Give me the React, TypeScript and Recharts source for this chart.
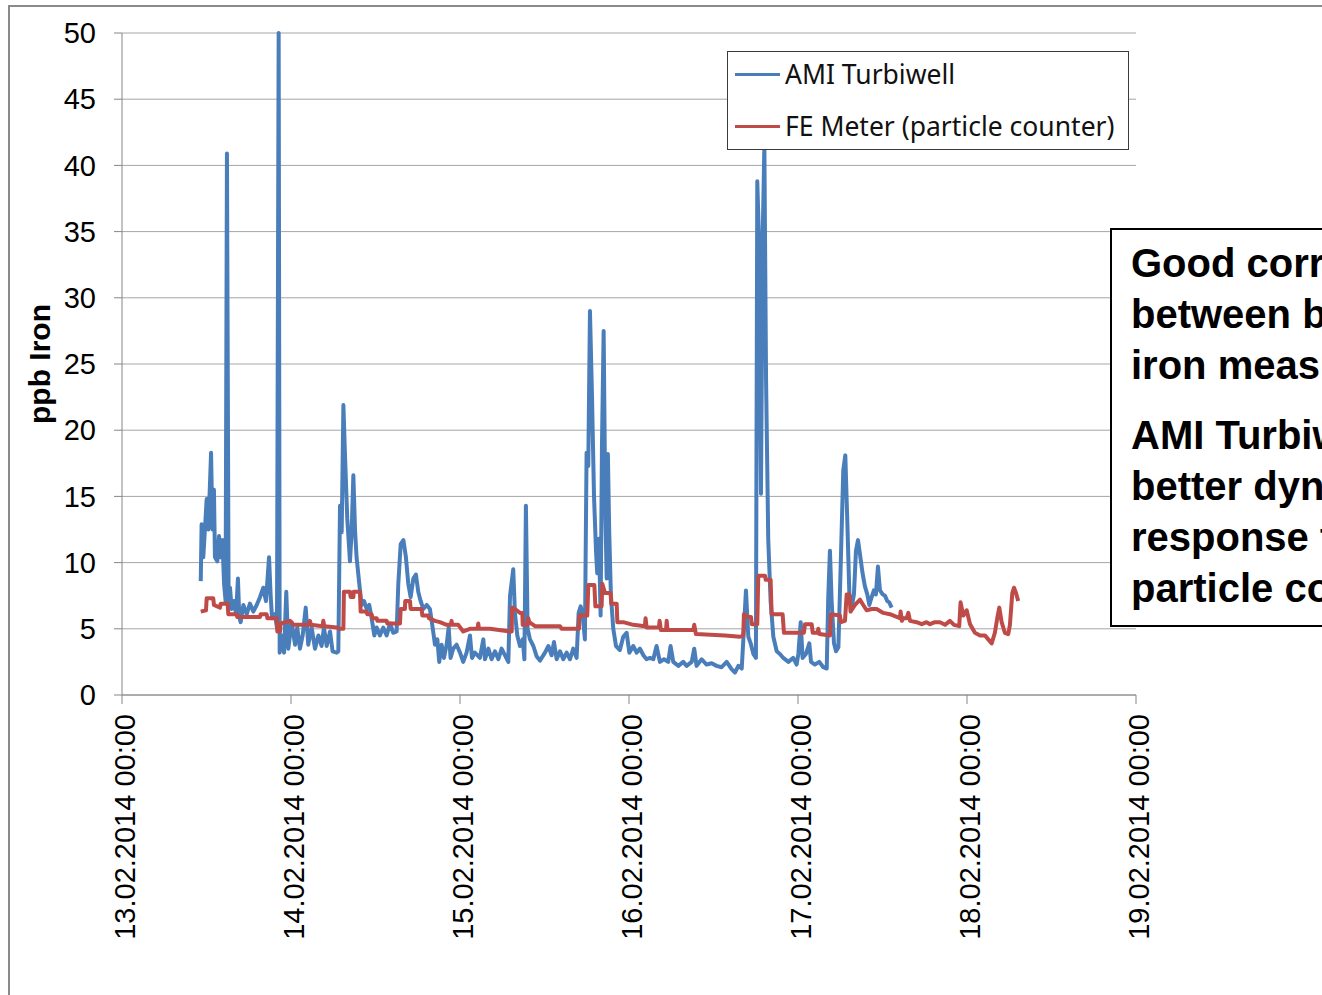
import { LineChart, Line, XAxis, YAxis, CartesianGrid, Legend } from 'recharts';

// days since 13.02.2014 00:00 and ppb iron
const turbiwellDays = [
    0.466, 0.471, 0.481, 0.501, 0.511, 0.527, 0.535, 0.544, 0.55, 0.564, 0.574, 0.584, 0.594, 0.604, 0.613, 0.621,
    0.631, 0.639, 0.649, 0.663, 0.675, 0.686, 0.694, 0.702, 0.718, 0.738, 0.757, 0.777, 0.797, 0.817, 0.836, 0.852,
    0.87, 0.88, 0.888, 0.905, 0.917, 0.927, 0.933, 0.945, 0.959, 0.972, 0.984, 1.004, 1.024, 1.037, 1.053, 1.069,
    1.087, 1.102, 1.122, 1.142, 1.162, 1.181, 1.195, 1.211, 1.231, 1.246, 1.27, 1.28, 1.29, 1.3, 1.31, 1.319, 1.333,
    1.349, 1.359, 1.369, 1.379, 1.388, 1.404, 1.418, 1.432, 1.448, 1.463, 1.477, 1.493, 1.507, 1.526, 1.546, 1.566,
    1.586, 1.605, 1.625, 1.635, 1.649, 1.665, 1.68, 1.694, 1.708, 1.724, 1.739, 1.753, 1.767, 1.783, 1.803, 1.822,
    1.838, 1.852, 1.866, 1.877, 1.891, 1.905, 1.921, 1.933, 1.944, 1.96, 1.98, 2.0, 2.019, 2.039, 2.059, 2.071, 2.088,
    2.118, 2.138, 2.148, 2.168, 2.187, 2.207, 2.227, 2.246, 2.266, 2.286, 2.296, 2.315, 2.325, 2.339, 2.355, 2.371,
    2.381, 2.39, 2.4, 2.414, 2.434, 2.454, 2.473, 2.503, 2.523, 2.542, 2.556, 2.572, 2.592, 2.611, 2.631, 2.651, 2.67,
    2.69, 2.702, 2.714, 2.726, 2.739, 2.749, 2.759, 2.769, 2.781, 2.793, 2.805, 2.812, 2.822, 2.832, 2.84, 2.85, 2.86,
    2.868, 2.875, 2.883, 2.893, 2.907, 2.923, 2.946, 2.966, 2.986, 3.002, 3.025, 3.045, 3.065, 3.085, 3.104, 3.124,
    3.144, 3.163, 3.183, 3.207, 3.232, 3.246, 3.262, 3.292, 3.321, 3.341, 3.371, 3.386, 3.4, 3.43, 3.459, 3.489, 3.518,
    3.548, 3.578, 3.607, 3.627, 3.647, 3.667, 3.68, 3.692, 3.706, 3.72, 3.736, 3.751, 3.759, 3.769, 3.781, 3.791, 3.801,
    3.811, 3.824, 3.838, 3.854, 3.874, 3.893, 3.913, 3.943, 3.972, 3.992, 4.002, 4.016, 4.027, 4.047, 4.067, 4.077,
    4.1, 4.126, 4.15, 4.17, 4.179, 4.189, 4.199, 4.213, 4.225, 4.239, 4.252, 4.268, 4.28, 4.292, 4.304, 4.317, 4.331,
    4.343, 4.355, 4.367, 4.382, 4.396, 4.41, 4.422, 4.436, 4.449, 4.461, 4.473, 4.485, 4.501, 4.515, 4.528, 4.54, 4.554,
];
const turbiwellPpb = [
    8.6, 12.9, 10.4, 14.8, 12.5, 18.3, 12.5, 15.5, 10.4, 10.1, 12.0, 10.4, 11.7, 8.4, 7.1, 40.9,
    6.5, 8.1, 6.5, 7.1, 6.1, 8.8, 5.9, 5.5, 6.8, 6.1, 6.9, 6.3, 6.8, 7.4, 8.1, 7.1,
    10.4, 7.4, 5.8, 6.1, 5.1, 50, 3.2, 4.5, 3.2, 7.8, 3.5, 5.5, 3.8, 5.1, 3.5, 4.5,
    6.6, 3.8, 5.1, 3.5, 4.5, 3.7, 5.1, 3.7, 4.8, 3.3, 3.2, 3.3, 14.3, 12.3, 21.9, 18.3, 13.3,
    10.1, 12.4, 16.6, 12.4, 10.4, 8.4, 6.8, 7.1, 6.5, 6.8, 5.8, 4.5, 5.1, 4.5, 5.1, 4.5,
    5.4, 4.7, 4.8, 8.4, 11.4, 11.7, 10.4, 8.4, 7.4, 8.8, 9.1, 7.8, 7.1, 6.5, 6.8, 6.5,
    5.1, 3.8, 4.2, 2.5, 3.8, 2.8, 3.8, 5.1, 2.8, 3.5, 3.8, 3.2, 2.5, 3.2, 4.5, 2.8, 3.2,
    2.8, 4.2, 2.7, 3.5, 2.7, 3.3, 2.7, 3.5, 3.0, 2.5, 7.5, 9.5, 6.2, 4.5, 3.7, 4.2,
    2.7, 14.3, 5.0, 4.2, 3.7, 2.9, 2.6, 3.2, 3.7, 3.0, 4.0, 2.7, 3.3, 2.7, 3.2, 2.7, 3.5,
    2.8, 6.2, 6.7, 6.0, 4.2, 18.3, 17.3, 29.0, 22.6, 15.0, 10.8, 9.2, 11.8, 6.0, 18.8, 27.5, 13.8,
    8.8, 18.2, 12.3, 7.5, 5.0, 3.7, 3.4, 4.4, 4.7, 3.2, 3.7, 3.2, 3.5, 3.0, 2.7, 2.8,
    2.7, 3.7, 2.5, 2.7, 2.5, 3.7, 2.5, 2.2, 2.5, 2.2, 2.5, 3.5, 2.2, 2.7, 2.3, 2.4, 2.2,
    2.1, 2.5, 1.95, 1.7, 2.2, 2.0, 5.0, 7.9, 4.4, 3.9, 3.1, 2.8, 38.8, 34.5, 15.2, 34.5, 41.5,
    23.8, 11.7, 7.1, 4.4, 3.3, 3.1, 2.8, 2.5, 2.8, 2.3, 3.1, 5.5, 2.8, 3.1, 3.9, 2.5,
    2.3, 2.5, 2.1, 2.0, 7.4, 10.9, 7.1, 3.9, 3.3, 3.6, 9.5, 17.0, 18.1, 13.0, 7.6, 6.6, 7.6,
    10.9, 11.7, 10.6, 9.2, 8.2, 7.6, 6.8, 7.4, 7.9, 7.6, 9.7, 7.9, 7.6, 7.5, 7.1, 7.0, 6.6,
];

const feMeterDays = [
    0.466, 0.497, 0.501, 0.54, 0.544, 0.58, 0.584, 0.625, 0.629, 0.678, 0.682, 0.817, 0.82, 0.856, 0.86, 0.915,
    0.919, 0.935, 0.939, 0.994, 1.014, 1.108, 1.112, 1.118, 1.187, 1.191, 1.197, 1.27, 1.286, 1.31, 1.313, 1.349,
    1.353, 1.369, 1.371, 1.408, 1.412, 1.448, 1.451, 1.477, 1.483, 1.507, 1.511, 1.566, 1.57, 1.645, 1.649, 1.674,
    1.676, 1.704, 1.708, 1.773, 1.777, 1.812, 1.816, 1.852, 1.881, 1.921, 1.946, 1.95, 1.954, 1.99, 2.019, 2.059,
    2.104, 2.108, 2.112, 2.177, 2.296, 2.306, 2.308, 2.335, 2.355, 2.369, 2.371, 2.4, 2.404, 2.41, 2.444, 2.592,
    2.601, 2.69, 2.704, 2.706, 2.753, 2.759, 2.795, 2.801, 2.838, 2.842, 2.858, 2.891, 2.895, 2.927, 2.931, 2.966,
    3.025, 3.094, 3.098, 3.104, 3.177, 3.181, 3.189, 3.219, 3.223, 3.228, 3.38, 3.386, 3.396, 3.568, 3.657, 3.676,
    3.68, 3.706, 3.722, 3.726, 3.759, 3.765, 3.805, 3.809, 3.838, 3.844, 3.909, 3.917, 4.035, 4.041, 4.081, 4.087,
    4.116, 4.12, 4.126, 4.189, 4.195, 4.248, 4.254, 4.278, 4.288, 4.304, 4.311, 4.337, 4.367, 4.386, 4.406, 4.436,
    4.465, 4.505, 4.544, 4.584, 4.603, 4.607, 4.615, 4.623, 4.643, 4.653, 4.663, 4.702, 4.732, 4.761, 4.781, 4.81,
    4.84, 4.87, 4.899, 4.923, 4.954, 4.962, 4.978, 4.998, 5.018, 5.047, 5.077, 5.106, 5.126, 5.146, 5.165, 5.179,
    5.191, 5.205, 5.224, 5.244, 5.254, 5.268, 5.278, 5.29, 5.303,
];
const feMeterPpb = [
    6.3, 6.4, 7.3, 7.3, 6.8, 6.6, 6.9, 6.9, 6.1, 6.1, 5.9, 5.9, 6.1, 6.1, 5.8, 5.8,
    4.8, 4.8, 5.4, 5.6, 5.3, 5.3, 5.6, 5.3, 5.2, 5.6, 5.2, 5.1, 5.0, 5.0, 7.8, 7.8,
    7.4, 7.4, 7.8, 7.8, 6.3, 6.3, 6.1, 6.1, 5.8, 5.8, 5.6, 5.6, 5.4, 5.4, 6.5, 6.5,
    7.1, 7.1, 6.5, 6.5, 6.0, 6.0, 5.8, 5.6, 5.5, 5.3, 5.3, 5.6, 5.3, 5.3, 4.8, 5.0,
    5.0, 5.4, 5.0, 5.0, 4.8, 4.8, 6.6, 6.4, 6.2, 6.2, 5.3, 5.3, 5.8, 5.5, 5.2, 5.2,
    5.0, 5.0, 5.0, 6.0, 6.0, 8.3, 8.3, 6.7, 6.7, 8.4, 7.7, 7.7, 6.9, 6.9, 5.5, 5.5,
    5.3, 5.2, 5.8, 5.1, 5.1, 5.6, 4.9, 4.9, 5.6, 4.9, 4.9, 5.3, 4.6, 4.5, 4.4, 4.5,
    6.1, 5.9, 5.9, 5.35, 5.35, 9.0, 9.0, 8.7, 8.7, 6.1, 6.1, 4.7, 4.7, 5.35, 5.35, 4.7,
    4.7, 5.0, 4.6, 4.5, 6.1, 6.0, 5.5, 5.6, 7.6, 7.6, 6.3, 6.8, 7.2, 6.8, 6.4, 6.5,
    6.5, 6.2, 6.1, 5.9, 5.8, 6.3, 5.6, 5.8, 5.8, 6.2, 5.6, 5.5, 5.35, 5.5, 5.35, 5.5,
    5.5, 5.3, 5.6, 5.3, 5.2, 7.0, 6.0, 6.4, 5.35, 4.7, 4.5, 4.5, 4.2, 3.9, 4.7, 5.8,
    6.6, 5.5, 4.7, 4.6, 5.3, 7.7, 8.1, 7.7, 7.1,
];

const dayTicks = [0, 1, 2, 3, 4, 5, 6];
const dayLabels = [
    '13.02.2014 00:00',
    '14.02.2014 00:00',
    '15.02.2014 00:00',
    '16.02.2014 00:00',
    '17.02.2014 00:00',
    '18.02.2014 00:00',
    '19.02.2014 00:00',
];
const ppbTicks = [0, 5, 10, 15, 20, 25, 30, 35, 40, 45, 50];

const turbiwellData = turbiwellDays.map((t, i) => ({ t, v: turbiwellPpb[i] }));
const feMeterData = feMeterDays.map((t, i) => ({ t, v: feMeterPpb[i] }));

const BLUE = '#4a7ebb';
const RED = '#be4b48';
const AXIS = '#868686';
const ARIAL = '"Liberation Sans", Arial, sans-serif';

const DateTick = (props: any) => {
    const { x, y, payload } = props;
    return (
        <text
            transform={`translate(${x + 13},${y + 8}) rotate(-90)`}
            textAnchor='end'
            fontSize={29}
            fontFamily={ARIAL}
            fill='#000'
        >
            {dayLabels[payload.value]}
        </text>
    );
};

const renderLegend = () => (
    <div
        style={{
            width: 400,
            height: 97,
            border: '1px solid #3a3a3a',
            background: '#fff',
            fontFamily: '"Noto Sans", sans-serif',
            fontSize: 26.5,
            color: '#111',
            position: 'relative',
        }}
    >
        {[
            { name: 'AMI Turbiwell', color: BLUE, top: 22 },
            { name: 'FE Meter (particle counter)', color: RED, top: 74 },
        ].map((item) => (
            <div key={item.name} style={{ position: 'absolute', left: 7, top: item.top - 18, height: 36, display: 'flex', alignItems: 'center' }}>
                <span style={{ display: 'inline-block', width: 45, height: 3, background: item.color, marginRight: 5 }} />
                <span style={{ whiteSpace: 'nowrap' }}>{item.name}</span>
            </div>
        ))}
    </div>
);

export default function App() {
    return (
        <div
            style={{
                position: 'fixed',
                left: 8,
                top: 5,
                width: 1314,
                height: 990,
                overflow: 'hidden',
                background: '#fff',
            }}
        >
            <div
                style={{
                    position: 'absolute',
                    left: 0,
                    top: 0,
                    width: 1400,
                    height: 1100,
                    borderTop: '2px solid #8a8a8a',
                    borderLeft: '2px solid #8a8a8a',
                }}
            />
            <div style={{ position: 'absolute', left: 0, top: 0 }}>
                <LineChart width={1200} height={980} margin={{ top: 28, right: 72, bottom: 40, left: 0 }}>
                    <CartesianGrid vertical={false} stroke='#a6a6a6' strokeWidth={1} />
                    <XAxis
                        type='number'
                        dataKey='t'
                        domain={[0, 6]}
                        ticks={dayTicks}
                        interval={0}
                        tickSize={9}
                        height={250}
                        stroke={AXIS}
                        tick={<DateTick />}
                    />
                    <YAxis
                        type='number'
                        domain={[0, 50]}
                        ticks={ppbTicks}
                        interval={0}
                        width={114}
                        tickSize={8}
                        tickMargin={18}
                        stroke={AXIS}
                        tick={{ fontSize: 29, fill: '#000', fontFamily: ARIAL }}
                        label={({ viewBox }: any) => {
                            const cy = viewBox.y + viewBox.height / 2;
                            return (
                                <text
                                    transform={`translate(42,${cy}) rotate(-90)`}
                                    textAnchor='middle'
                                    fontSize={30}
                                    fontWeight='bold'
                                    fontFamily={ARIAL}
                                    fill='#000'
                                >
                                    ppb Iron
                                </text>
                            );
                        }}
                    />
                    <Legend
                        layout='vertical'
                        align='center'
                        verticalAlign='middle'
                        content={renderLegend}
                        wrapperStyle={{ left: 719, top: 46, width: 402 }}
                    />
                    <Line
                        data={turbiwellData}
                        dataKey='v'
                        name='AMI Turbiwell'
                        stroke={BLUE}
                        strokeWidth={4}
                        strokeLinejoin='round'
                        dot={false}
                        type='linear'
                        isAnimationActive={false}
                    />
                    <Line
                        data={feMeterData}
                        dataKey='v'
                        name='FE Meter (particle counter)'
                        stroke={RED}
                        strokeWidth={4}
                        strokeLinejoin='round'
                        dot={false}
                        type='linear'
                        isAnimationActive={false}
                    />
                </LineChart>
            </div>
            <div
                style={{
                    position: 'absolute',
                    left: 1102,
                    top: 223,
                    width: 420,
                    height: 387,
                    border: '2px solid #000',
                    background: '#fff',
                    boxSizing: 'content-box',
                    padding: '8px 0 0 19px',
                    fontFamily: ARIAL,
                    fontWeight: 'bold',
                    fontSize: 40,
                    lineHeight: '51px',
                    color: '#000',
                    whiteSpace: 'nowrap',
                }}
            >
                <div>
                    Good correlation
                    <br />
                    between both
                    <br />
                    iron measurements
                </div>
                <div style={{ marginTop: 19 }}>
                    AMI Turbiwell has
                    <br />
                    better dynamic
                    <br />
                    response than
                    <br />
                    particle counter
                </div>
            </div>
        </div>
    );
}
